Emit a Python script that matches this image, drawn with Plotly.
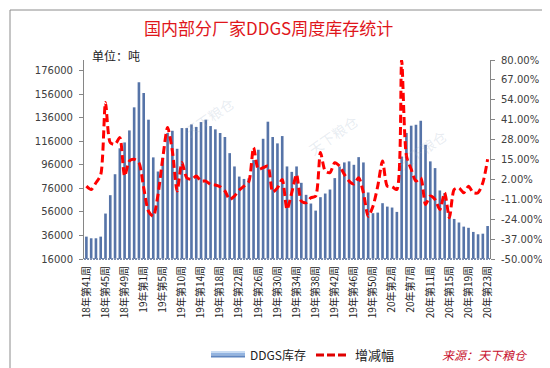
import plotly.graph_objects as go

# ---------------- data ----------------
weeks_2018 = [41, 42, 43, 44, 45, 46, 47, 48, 49, 50, 51, 52]
weeks_2019 = [1, 2, 3, 4, 5, 7, 8, 9, 10, 11, 12, 13, 14, 15, 16, 17, 18, 19, 20, 21,
              22, 23, 24, 25, 26, 27, 28, 29, 30, 31, 32, 33, 34, 35, 36, 37, 38, 39,
              40, 41, 42, 43, 44, 45, 46, 47, 48, 49, 50, 51]
weeks_2019 = weeks_2019 + [52]
weeks_2020 = [1, 2, 3, 5, 6, 7, 8, 9, 10, 11, 12, 13, 14, 15, 16, 17, 18, 19, 20, 21, 22, 23]

categories = ([f"18年第{w}周" for w in weeks_2018] +
              [f"19年第{w}周" for w in weeks_2019] +
              [f"20年第{w}周" for w in weeks_2020])

stock = [35000, 33600, 33600, 35000, 54600, 70200, 88000, 110000, 115000, 125200,
         144800, 166100, 157000, 134300, 102300, 90300, 102000, 123000, 124900, 109600,
         127200, 127200, 130300, 128100, 132300, 134300, 128900, 126100, 123000, 119600,
         105900, 94600, 86000, 84000, 84500, 100000, 108800, 118100, 132600, 119600,
         114200, 120400, 94600, 90000, 94600, 80700, 70500, 63100, 57100, 68500,
         71600, 75000, 84700, 94600, 98000, 98900, 96000, 102500, 98000, 72500,
         54900, 55400, 63400, 60500, 59700, 56000, 103000, 123000, 129200, 130000,
         133400, 113000, 98900, 93200, 74200, 71900, 56000, 50000, 47000, 43500,
         42500, 39000, 37000, 37500, 44000]

change = [-2.4, -4.6, -0.2, 5.0, 52.3, 26.0, 24.9, 29.3, 4.2, 14.0,
          15.1, 12.9, -3.5, -18.8, -22.1, -7.8, 16.2, 35.9, 20.6, -5.6,
          13.0, 3.1, 2.0, 4.2, 0.9, 0.9, -1.3, -1.7, -2.8, -5.6,
          -11.1, -8.9, -5.0, -2.4, 0.5, 22.8, 8.6, 9.7, 10.7, -6.3,
          -3.5, 2.0, -17.7, -6.7, 5.3, -12.2, -13.3, -10.0, -8.9, 19.5,
          7.5, 6.4, 12.9, 10.7, 5.3, 0.9, -1.0, 3.1, -6.7, -22.1,
          -15.5, -2.4, 14.0, -2.4, -2.8, -4.6, 80.0, 17.5, 8.6, 0.9,
          3.1, -14.4, -8.9, -11.1, -17.7, -6.7, -23.1, -4.6, -3.5, -6.7,
          -2.4, -6.7, -6.7, -0.2, 15.1]

tick_labels = categories[::4]
left_ticks = [16000, 36000, 56000, 76000, 96000, 116000, 136000, 156000, 176000]
right_ticks = [-50, -37, -24, -11, 2, 15, 28, 41, 54, 67, 80]
right_text = [f"{v:.2f}%" for v in right_ticks]

# ---------------- layout helpers ----------------
W, H = 550, 368
L, R, T, B = 76, 68, 52, 117
PW, PH = W - L - R, H - T - B


def px(x):
    return (x - L) / PW


def py(y):
    return (H - B - y) / PH


CJK = "Noto Sans CJK SC"
NUM = "DejaVu Sans"

fig = go.Figure()
fig.add_bar(x=categories, y=stock, name="DDGS库存", yaxis="y",
            marker=dict(color="#5674a8", line=dict(width=0)), showlegend=False)
fig.add_scatter(x=categories, y=change, name="增减幅", yaxis="y2", mode="lines",
                line=dict(color="#ff0000", width=3, dash="8px,4px",
                          shape="spline", smoothing=0.7),
                showlegend=False)

shapes = []
# outer border
shapes.append(dict(type="rect", xref="paper", yref="paper",
                   x0=px(2), x1=px(548), y0=py(366), y1=py(2),
                   line=dict(color="#8c8c8c", width=1), fillcolor="rgba(0,0,0,0)", layer="below"))
# dotted category axis
shapes.append(dict(type="line", xref="paper", yref="paper", x0=0, x1=1, y0=0, y1=0,
                   line=dict(color="#7d8fb0", width=2, dash="2px,1px")))
# legend swatch (bars) - layered to mimic gradient
sw = [("#c9dcf3", 343, 345), ("#93b4e0", 345, 347.5), ("#5f86c0", 347.5, 349.5)]
for col, y0, y1 in sw:
    shapes.append(dict(type="rect", xref="paper", yref="paper",
                       x0=px(203), x1=px(237), y0=py(y1), y1=py(y0),
                       line=dict(width=0), fillcolor=col))
# legend line
shapes.append(dict(type="line", xref="paper", yref="paper",
                   x0=px(308), x1=px(341), y0=py(347), y1=py(347),
                   line=dict(color="#e00000", width=3, dash="8px,3px")))

annotations = [
    dict(text="国内部分厂家DDGS周度库存统计", xref="paper", yref="paper",
         x=px(260), y=py(19), xanchor="center", yanchor="middle", showarrow=False,
         font=dict(family=CJK, size=17, color="#e0161b")),
    dict(text="单位：吨", xref="paper", yref="paper", x=px(82), y=py(48),
         xanchor="left", yanchor="middle", showarrow=False, bgcolor="white",
         font=dict(family=CJK, size=12, color="#222222")),
    dict(text="DDGS库存", xref="paper", yref="paper", x=px(240), y=py(346),
         xanchor="left", yanchor="middle", showarrow=False,
         font=dict(family=CJK, size=12, color="#222222")),
    dict(text="增减幅", xref="paper", yref="paper", x=px(345), y=py(346),
         xanchor="left", yanchor="middle", showarrow=False,
         font=dict(family=CJK, size=13, color="#222222")),
    dict(text="来源：天下粮仓", xref="paper", yref="paper", x=px(432), y=py(346),
         xanchor="left", yanchor="middle", showarrow=False,
         font=dict(family=CJK, size=12, color="#c8102e", style="italic")),
]
# faint watermarks
for wx, wy in [(170, 82), (325, 100), (445, 115)]:
    annotations.append(dict(text="天下粮仓", xref="paper", yref="paper", x=px(wx), y=py(wy),
                            showarrow=False, textangle=-35,
                            font=dict(family=CJK, size=14, color="rgba(150,170,195,0.22)")))

fig.update_layout(
    width=W, height=H, autosize=False,
    margin=dict(l=L, r=R, t=T, b=B),
    paper_bgcolor="white", plot_bgcolor="white",
    bargap=0.45,
    shapes=shapes, annotations=annotations,
    xaxis=dict(type="category", tickmode="array", tickvals=tick_labels, ticktext=tick_labels,
               tickangle=-90, tickfont=dict(family=CJK, size=10, color="#222222"),
               showgrid=False, showline=False, ticks="", zeroline=False,
               range=[-0.5, len(categories) - 0.5], ticklabelstandoff=4),
    yaxis=dict(range=[16000, 185000], tickmode="array", tickvals=left_ticks,
               ticktext=[str(v) for v in left_ticks],
               showgrid=False, zeroline=False, showline=True, linecolor="#868686",
               ticks="outside", ticklen=4, tickcolor="#868686", ticklabelstandoff=4,
               tickfont=dict(family=NUM, size=10, color="#404040")),
    yaxis2=dict(range=[-50, 80], overlaying="y", side="right", tickmode="array",
                tickvals=right_ticks, ticktext=right_text,
                showgrid=False, zeroline=False, showline=True, linecolor="#868686",
                ticks="outside", ticklen=4, tickcolor="#868686", ticklabelstandoff=4,
                tickfont=dict(family=NUM, size=10, color="#404040")),
)

fig.write_html("out.html")
